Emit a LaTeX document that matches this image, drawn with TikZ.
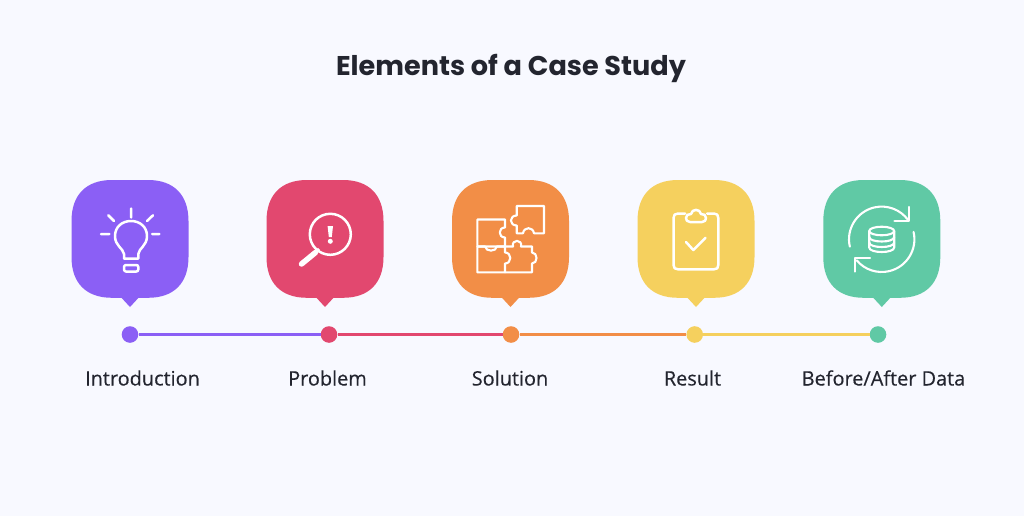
\documentclass[tikz,border=0pt]{standalone}
\usepackage{fontspec}
\setmainfont{Poppins}
\newfontfamily\labelfont[FakeBold=0.35]{Open Sans}
\definecolor{bgc}{HTML}{F8F9FF}
\definecolor{cpurple}{HTML}{8B5FF5}
\definecolor{cred}{HTML}{E2486F}
\definecolor{corange}{HTML}{F28E47}
\definecolor{cyellow}{HTML}{F5D05E}
\definecolor{cgreen}{HTML}{60C9A5}
\definecolor{ctext}{HTML}{23252F}
\tikzset{
  icon/.style={draw=white,line width=2.5pt,line cap=round,line join=round},
  thinicon/.style={icon,line width=2.1pt},
  dot/.style={circle,minimum size=16.6pt,inner sep=0pt,fill=#1},
  conn/.style={draw=#1,line width=3.2pt},
  lab/.style={font=\labelfont\fontsize{19.9}{22}\selectfont,text=ctext,anchor=base},
}
\newcommand{\bubble}[2]{%
  \begin{scope}[shift={(#1,239)}]
  \fill[#2] (-18,-59) -- (18,-59) .. controls (44,-59) and (58.5,-44) .. (58.5,-18)
    -- (58.5,18) .. controls (58.5,44) and (44,58.8) .. (18,58.8)
    -- (8.5,58.8) -- (0,68) -- (-8.5,58.8) -- (-18,58.8)
    .. controls (-44,58.8) and (-58.5,44) .. (-58.5,18)
    -- (-58.5,-18) .. controls (-58.5,-44) and (-44,-59) .. (-18,-59) -- cycle;
  \end{scope}}
\begin{document}
\begin{tikzpicture}[x=1pt,y=-1pt]
\useasboundingbox (0,0) rectangle (1024,516);
\fill[bgc] (0,0) rectangle (1024,516);
\node[font=\bfseries\fontsize{27.1}{30}\selectfont,text=ctext] (title) at (511,68) {Elements of a Case Study};

\bubble{130}{cpurple}
\bubble{325}{cred}
\bubble{510.5}{corange}
\bubble{696}{cyellow}
\bubble{881.8}{cgreen}

% bulb
\draw[icon] (131,208.5)--(131,217.5) (108.3,215.3)--(114,221) (153,215.3)--(147,221) (101,234)--(109.3,234) (152,234)--(159.3,234);
\draw[icon] (124,258.5) -- (124,254) .. controls (123,248) and (115,246) .. (115,236)
  .. controls (115,227) and (122,221) .. (131,221) .. controls (140,221) and (147,227) .. (147,236)
  .. controls (147,246) and (139,248) .. (138.3,254) -- (138.3,258.5) -- cycle;
\draw[icon,rounded corners=2pt] (124,265) rectangle (138.3,271.5);

% magnifier
\draw[icon] (330.3,234.3) circle (20.5);
\draw[white,line width=5.5pt,line cap=round] (301.5,264) -- (315.5,252.5);
\draw[white,line width=3pt] (315.5,252.5) -- (319,249);
\fill[white] (327.6,226) -- (333,226) -- (331.8,237) -- (328.8,237) -- cycle;
\fill[white] (330.3,241.3) circle (2.5);

% puzzle
\draw[thinicon] (477.3,219.5) -- (505,219.5) -- (505,227.5) .. controls (498,227.5) and (498,237.5) .. (505,237.5)
  -- (505,246.5) -- (477.3,246.5) -- cycle;
\draw[thinicon] (477.3,246.5) -- (485,246.5) .. controls (486,252) and (496,252) .. (497,246.5) -- (505,246.5)
  -- (505,252.5) .. controls (512,252.5) and (512,263.5) .. (505,263.5) -- (505,272.3) -- (477.3,272.3) -- cycle;
\draw[thinicon] (505,246.5) -- (513,246.5) .. controls (511,239) and (523,239) .. (521,246.5) -- (532,246.5) -- (532,252.5)
  .. controls (538,252.5) and (538,263.5) .. (532,263.5) -- (532,272.3) -- (505,272.3);
\draw[thinicon] (516.7,206) -- (544,206) -- (544,233.3) -- (534,233.3) .. controls (533,226.5) and (524,226.5) .. (523,233.3)
  -- (516.7,233.3) -- (516.7,225.5) .. controls (509,225.5) and (509,215.5) .. (516.7,215.5) -- cycle;

% clipboard
\draw[icon] (678,213.5) -- (685,213.5) (707,213.5) -- (714,213.5) .. controls (717,213.5) and (718.3,215) .. (718.3,218)
  -- (718.3,265) .. controls (718.3,268) and (717,269.3) .. (714,269.3) -- (678,269.3)
  .. controls (675,269.3) and (673.5,268) .. (673.5,265) -- (673.5,218) .. controls (673.5,215) and (675,213.5) .. (678,213.5);
\draw[icon] (690,222) -- (702,222) .. controls (705,222) and (706,220) .. (706,218) .. controls (706,215) and (704,214) .. (701,214)
  .. controls (700,208.5) and (692,208.5) .. (691,214) .. controls (688,214) and (686,215) .. (686,218) .. controls (686,220) and (687,222) .. (690,222) -- cycle;
\draw[icon] (686,242) -- (693.3,250) -- (705.5,237.8);

% sync
\draw[thinicon] (881.7,239.3) ++(167:32.7) arc (167:324:32.7);
\draw[thinicon] (881.7,239.3) ++(-13:32.7) arc (-13:140:32.7);
\draw[thinicon] (909,207) -- (909,221) -- (894.5,221);
\draw[thinicon] (855,271.7) -- (855,258.3) -- (870,258.3);
\draw[thinicon] (881.7,231) ellipse (12.5 and 4.3);
\draw[thinicon] (869.2,231) -- (869.2,247.5) .. controls (869.2,253.5) and (894.2,253.5) .. (894.2,247.5) -- (894.2,231);
\draw[thinicon] (869.2,237) .. controls (869.2,243) and (894.2,243) .. (894.2,237);
\draw[thinicon] (869.2,242.5) .. controls (869.2,248.5) and (894.2,248.5) .. (894.2,242.5);

% timeline
\node[dot=cpurple] (d1) at (130,334.5) {};
\node[dot=cred] (d2) at (329,334.5) {};
\node[dot=corange] (d3) at (511,334.5) {};
\node[dot=cyellow] (d4) at (694.7,334.5) {};
\node[dot=cgreen] (d5) at (878,334.5) {};
\draw[conn=cpurple] (d1) -- (d2);
\draw[conn=cred] (d2) -- (d3);
\draw[conn=corange] (d3) -- (d4);
\draw[conn=cyellow] (d4) -- (d5);

\node[lab] (l1) at (142.5,385.5) {Introduction};
\node[lab] (l2) at (327.5,385.5) {Problem};
\node[lab] (l3) at (510,385.5) {Solution};
\node[lab] (l4) at (692.5,385.5) {Result};
\node[lab] (l5) at (883.5,385.5) {Before/After Data};
\end{tikzpicture}
\end{document}
